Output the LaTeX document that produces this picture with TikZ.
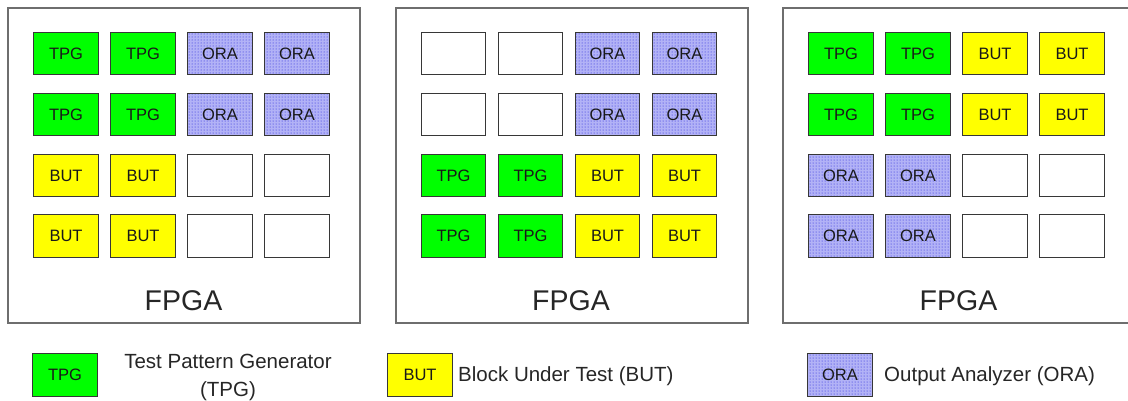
\documentclass[tikz,border=0pt]{standalone}
\usepackage{fontspec}
\setmainfont{Liberation Sans}
\usetikzlibrary{patterns}

\definecolor{tpgfill}{RGB}{0,255,0}
\definecolor{butfill}{RGB}{255,255,0}
\definecolor{oraback}{RGB}{178,178,246}
\definecolor{oradot}{RGB}{30,30,220}
\definecolor{panelline}{RGB}{110,110,110}
\definecolor{blkline}{RGB}{55,55,55}

% labels printed inside each kind of block
\newcommand\lbltpg{TPG}
\newcommand\lblbut{BUT}
\newcommand\lblora{ORA}
\newcommand\lblemp{}

\tikzset{
  panel/.style={draw=panelline, line width=2pt, fill=white,
    minimum width=352pt, minimum height=315pt, inner sep=0pt},
  fpgalbl/.style={anchor=base, inner sep=0pt,
    font=\fontsize{28.5}{34}\selectfont, text=black!85},
  blk/.style={draw=blkline, line width=1.4pt, minimum width=64.5pt,
    minimum height=42.5pt, inner sep=0pt,
    font=\fontsize{16.5}{19}\selectfont, text=black!90},
  tpg/.style={fill=tpgfill},
  but/.style={fill=butfill},
  ora/.style={preaction={fill=oraback}, pattern=dots, pattern color=oradot},
  emp/.style={fill=white},
  legtxt/.style={inner sep=0pt, font=\fontsize{20.5}{28}\selectfont, text=black!85},
}

\begin{document}
\begin{tikzpicture}[x=1pt, y=-1pt]
\useasboundingbox (0,0) rectangle (1128,400);

% three FPGA panels, each a 4x4 grid of blocks
\foreach \p/\px/\toprow/\botrow in {
    1/8/{tpg,tpg,ora,ora}/{but,but,emp,emp},
    2/395.5/{emp,emp,ora,ora}/{tpg,tpg,but,but},
    3/783/{tpg,tpg,but,but}/{ora,ora,emp,emp}}{
  \node[panel] (fpga\p) at (\px+176, 165.5) {};
  \node[fpgalbl] (fpgalbl\p) at (\px+175.5, 310) {FPGA};
  \foreach \r/\ry in {1/53.5, 2/114.5}{
    \foreach \t [count=\c] in \toprow{
      \node[blk, \t] (p\p r\r c\c) at ({\px+58+77*(\c-1)}, \ry) {\csname lbl\t\endcsname};
    }
  }
  \foreach \r/\ry in {3/175.5, 4/236}{
    \foreach \t [count=\c] in \botrow{
      \node[blk, \t] (p\p r\r c\c) at ({\px+58+77*(\c-1)}, \ry) {\csname lbl\t\endcsname};
    }
  }
}

% legend
\node[blk, tpg, minimum width=65.5pt, minimum height=43.5pt] (legtpg) at (65,375) {TPG};
\node[legtxt, align=center] (legtpgtxt) at (228,377.5) {Test Pattern Generator\\(TPG)};
\node[blk, but, minimum width=65.5pt, minimum height=43.5pt] (legbut) at (420,375) {BUT};
\node[legtxt, anchor=base west] (legbuttxt) at (458,381) {Block Under Test (BUT)};
\node[blk, ora, minimum width=65.5pt, minimum height=43.5pt] (legora) at (840,375) {ORA};
\node[legtxt, anchor=base west] (legoratxt) at (884,381.5) {Output Analyzer (ORA)};
\end{tikzpicture}
\end{document}
